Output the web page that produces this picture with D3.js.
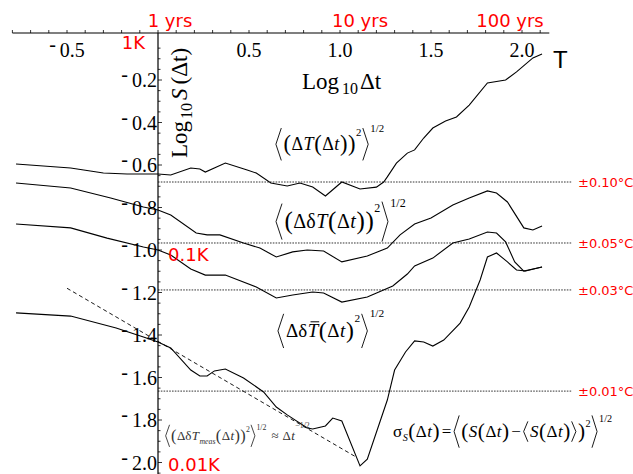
<!DOCTYPE html>
<html>
<head>
<meta charset="utf-8">
<script src="https://cdn.jsdelivr.net/npm/d3@7"></script>
<style>
  body { margin: 0; background: #fff; }
</style>
</head>
<body>
<main></main>
<script>
// values (log10 units)

const w = 633;
const h = 474;

// <(dT(dt))^2>^1/2
const tX = [-0.78, -0.48, -0.30, -0.17, 0.0, 0.07, 0.18, 0.23, 0.26, 0.37, 0.49, 0.54, 0.62, 0.71, 0.78, 0.85, 0.92, 1.01, 1.11, 1.20, 1.24, 1.26, 1.31, 1.37, 1.41, 1.46, 1.51, 1.58, 1.64, 1.71, 1.81, 1.91, 1.97, 2.06, 2.11];
const tY = [-0.595, -0.614, -0.638, -0.642, -0.642, -0.647, -0.614, -0.619, -0.633, -0.591, -0.624, -0.638, -0.685, -0.699, -0.685, -0.704, -0.746, -0.680, -0.713, -0.704, -0.680, -0.656, -0.591, -0.544, -0.529, -0.473, -0.426, -0.393, -0.374, -0.318, -0.214, -0.200, -0.162, -0.096, -0.078];

// <(d dT(dt))^2>^1/2
const dX = [-0.78, -0.48, -0.26, -0.08, 0.0, 0.07, 0.21, 0.27, 0.34, 0.47, 0.56, 0.65, 0.74, 0.82, 0.91, 1.01, 1.15, 1.26, 1.33, 1.41, 1.50, 1.62, 1.71, 1.81, 1.86, 1.92, 2.01, 2.06, 2.11];
const dY = [-0.685, -0.708, -0.755, -0.798, -0.812, -0.835, -0.920, -0.929, -0.929, -0.967, -0.991, -1.033, -1.009, -1.000, -1.005, -1.056, -1.028, -0.991, -0.929, -0.878, -0.849, -0.788, -0.755, -0.722, -0.732, -0.774, -0.896, -0.906, -0.887];

// <d dTbar(dt)^2>^1/2
const bX = [-0.78, -0.48, -0.28, -0.08, 0.0, 0.07, 0.18, 0.26, 0.37, 0.54, 0.65, 0.74, 0.85, 0.91, 1.01, 1.15, 1.29, 1.37, 1.41, 1.51, 1.62, 1.71, 1.81, 1.86, 1.91, 1.96, 2.01, 2.06, 2.11];
const bY = [-0.878, -0.896, -0.944, -0.986, -1.000, -1.024, -1.089, -1.118, -1.118, -1.174, -1.226, -1.212, -1.198, -1.202, -1.245, -1.221, -1.169, -1.113, -1.075, -1.038, -0.967, -0.948, -0.915, -0.920, -0.962, -1.056, -1.099, -1.089, -1.080];

// sigma_S(dt)
const sX = [-0.78, -0.48, -0.23, -0.08, 0.0, 0.07, 0.18, 0.23, 0.27, 0.31, 0.37, 0.47, 0.58, 0.65, 0.71, 0.82, 0.85, 0.92, 0.96, 1.01, 1.11, 1.15, 1.26, 1.30, 1.36, 1.41, 1.46, 1.51, 1.57, 1.66, 1.71, 1.77, 1.81, 1.86, 1.92, 1.97, 2.02, 2.11];
const sY = [-1.296, -1.311, -1.367, -1.409, -1.433, -1.461, -1.565, -1.593, -1.593, -1.569, -1.560, -1.602, -1.668, -1.739, -1.776, -1.838, -1.842, -1.828, -1.791, -1.805, -2.016, -1.984, -1.706, -1.565, -1.480, -1.428, -1.433, -1.452, -1.424, -1.344, -1.268, -1.141, -1.033, -1.014, -1.056, -1.094, -1.099, -1.080];

// dt^-1/2 reference
const slopeX = [-0.5, 1.08];
const slopeY = [-1.18, -1.97];

// dotted levels
const refLevels = [-0.68, -0.967, -1.188, -1.664];
const refLabels = ['±0.10°C', '±0.05°C', '±0.03°C', '±0.01°C'];

const xTickLabels = [-0.5, 0.5, 1.0, 1.5, 2.0];
const yTickLabels = [-0.2, -0.4, -0.6, -0.8, -1.0, -1.2, -1.4, -1.6, -1.8, -2.0];

const yearVals = [0, 1, 2];
const yearLabels = ['1 yrs', '10 yrs', '100 yrs'];
const kVals = [0, -1, -2];
const kLabels = ['1K', '0.1K', '0.01K'];

const serif = '"Liberation Serif", "Times New Roman", serif';
const sans = '"DejaVu Sans", sans-serif';
const red = '#f00';

const svg = d3.select('main').append('svg').attr('width', w).attr('height', h);
svg.append('rect').attr('width', w).attr('height', h).attr('fill', '#fff');

const x = d3.scaleLinear().domain([0, 2]).range([158, 522]);
const y = d3.scaleLinear().domain([0, -2]).range([37.5, 462.5]);
const axisY = 33;

// top axis
svg.append('line')
  .attr('x1', x(-0.8)).attr('x2', x(2.15))
  .attr('y1', axisY).attr('y2', axisY)
  .attr('stroke', '#000').attr('stroke-width', 1.2);

svg.selectAll('.xt')
  .data(d3.range(-8, 22).map((i) => i / 10))
  .enter()
  .append('line')
  .attr('x1', (d) => x(d)).attr('x2', (d) => x(d))
  .attr('y1', axisY).attr('y2', axisY - 3)
  .attr('stroke', '#000').attr('stroke-width', 0.8);

const xl = svg.selectAll('.xl')
  .data(xTickLabels)
  .enter()
  .append('text')
  .attr('x', (d) => x(d))
  .attr('y', 57)
  .attr('text-anchor', 'middle')
  .attr('font-family', serif)
  .attr('font-size', 20);
xl.filter((d) => d < 0).append('tspan').attr('dy', -6).text('-');
xl.append('tspan')
  .attr('dy', (d) => (d < 0 ? 6 : 0))
  .attr('dx', (d) => (d < 0 ? 4 : 0))
  .text((d) => Math.abs(d).toFixed(1));

// left axis
svg.append('line')
  .attr('x1', x(0)).attr('x2', x(0))
  .attr('y1', axisY).attr('y2', h)
  .attr('stroke', '#000').attr('stroke-width', 1.2);

svg.selectAll('.yt')
  .data(d3.range(1, 42).map((i) => -i * 0.05))
  .enter()
  .append('line')
  .attr('x1', x(0)).attr('x2', (d, i) => x(0) + ((i + 1) % 4 === 0 ? 4 : 2.5))
  .attr('y1', (d) => y(d)).attr('y2', (d) => y(d))
  .attr('stroke', '#000').attr('stroke-width', 0.8);

const yl = svg.selectAll('.yl')
  .data(yTickLabels)
  .enter()
  .append('text')
  .attr('x', 157)
  .attr('y', (d) => y(d) + 7)
  .attr('text-anchor', 'end')
  .attr('font-family', serif)
  .attr('font-size', 20);
yl.append('tspan').attr('dy', -6).text('-');
yl.append('tspan').attr('dy', 6).attr('dx', 4).text((d) => Math.abs(d).toFixed(1));

// dotted levels
svg.selectAll('.ref')
  .data(refLevels)
  .enter()
  .append('line')
  .attr('x1', x(0)).attr('x2', 572)
  .attr('y1', (d) => y(d)).attr('y2', (d) => y(d))
  .attr('stroke', '#000').attr('stroke-width', 0.8)
  .attr('stroke-dasharray', '1.6,1.2');

svg.selectAll('.refl')
  .data(refLevels)
  .enter()
  .append('text')
  .attr('x', 578)
  .attr('y', (d) => y(d) + 5)
  .attr('font-family', sans)
  .attr('font-size', 13)
  .attr('fill', red)
  .text((d, i) => refLabels[i]);

// curves
const line = d3.line().x((d) => x(d[0])).y((d) => y(d[1]));
[[tX, tY], [dX, dY], [bX, bY], [sX, sY]].forEach(([xs, ys]) => {
  svg.append('path')
    .datum(xs.map((v, i) => [v, ys[i]]))
    .attr('d', line)
    .attr('fill', 'none')
    .attr('stroke', '#000')
    .attr('stroke-width', 1.1);
});

svg.append('path')
  .datum(slopeX.map((v, i) => [v, slopeY[i]]))
  .attr('d', line)
  .attr('fill', 'none')
  .attr('stroke', '#000')
  .attr('stroke-width', 0.9)
  .attr('stroke-dasharray', '4,3');

// red labels
const yearDx = [12, 20, -12];
svg.selectAll('.yr')
  .data(yearVals)
  .enter()
  .append('text')
  .attr('x', (d, i) => x(d) + yearDx[i])
  .attr('y', 27)
  .attr('text-anchor', 'middle')
  .attr('font-family', sans)
  .attr('font-size', 18)
  .attr('fill', red)
  .text((d, i) => yearLabels[i]);

svg.selectAll('.kl')
  .data(kVals)
  .enter()
  .append('text')
  .attr('x', (d) => (d === 0 ? 145 : 168))
  .attr('y', (d) => y(d) + (d === -2 ? 8 : 11))
  .attr('text-anchor', (d) => (d === 0 ? 'end' : 'start'))
  .attr('font-family', sans)
  .attr('font-size', 18)
  .attr('fill', red)
  .text((d, i) => kLabels[i]);

svg.append('text')
  .attr('x', 553).attr('y', 68)
  .attr('font-family', '"Liberation Sans", Arial, sans-serif')
  .attr('font-size', 24)
  .text('T');

// axis titles
const xt = svg.append('text')
  .attr('x', 302).attr('y', 89)
  .attr('font-family', serif)
  .attr('font-size', 23);
xt.append('tspan').text('Log');
xt.append('tspan').attr('dx', 3).attr('dy', 5).attr('font-size', 16).text('10');
xt.append('tspan').attr('dx', 2).attr('dy', -5).text('Δt');

const yt = svg.append('text')
  .attr('transform', 'translate(187,158) rotate(-90)')
  .attr('font-family', serif)
  .attr('font-size', 23);
yt.append('tspan').text('Log');
yt.append('tspan').attr('dx', 2).attr('dy', 5).attr('font-size', 16).text('10');
yt.append('tspan').attr('dx', 3).attr('dy', -5).attr('font-style', 'italic').text('S');
yt.append('tspan').attr('dx', 4).text('(Δt)');

// formulas
function formula(x0, y0, fs, parts, color) {
  const g = svg.append('g').attr('fill', color).attr('font-family', serif);
  let cx = x0;
  parts.forEach((p) => {
    if (p.b) {
      const bh = (p.h || 1.8) * fs;
      const bw = (p.w || 0.3) * fs;
      const cy = y0 - 0.32 * fs;
      cx += 0.05 * fs;
      const pts = p.b === '<'
        ? [[cx + bw, cy - bh / 2], [cx, cy], [cx + bw, cy + bh / 2]]
        : [[cx, cy - bh / 2], [cx + bw, cy], [cx, cy + bh / 2]];
      g.append('path')
        .attr('d', d3.line()(pts))
        .attr('fill', 'none')
        .attr('stroke', color)
        .attr('stroke-width', 0.9);
      cx += bw + 0.12 * fs;
      return;
    }
    let size = fs * (p.s || 1);
    let dy = p.s ? 0.25 * fs * (p.s - 1) : 0;
    if (p.sub) { size = fs * 0.6; dy = fs * p.sub; }
    if (p.sup) { size = fs * 0.6; dy = -fs * p.sup; }
    const t = g.append('text')
      .attr('x', cx)
      .attr('y', y0 + dy)
      .attr('font-size', size)
      .attr('font-style', p.i ? 'italic' : 'normal')
      .text(p.t);
    const tw = t.node().getComputedTextLength();
    if (p.ol) {
      g.append('line')
        .attr('x1', cx + 0.15 * fs).attr('x2', cx + tw + 0.05 * fs)
        .attr('y1', y0 - 0.8 * fs).attr('y2', y0 - 0.8 * fs)
        .attr('stroke', color).attr('stroke-width', 1);
    }
    cx += tw + (p.g || 0.03 * fs);
  });
}

formula(275, 150, 18, [
  { b: '<' }, { t: '(', s: 1.25 }, { t: 'Δ' }, { t: 'T', i: 1 }, { t: '(', s: 1.25 }, { t: 'Δ' }, { t: 't', i: 1 },
  { t: ')', s: 1.25 }, { t: ')', s: 1.25 }, { t: '2', sup: 0.8 }, { b: '>' }, { t: '1/2', sup: 1.0 },
], '#000');

formula(275, 228, 20, [
  { b: '<' }, { t: '(', s: 1.25 }, { t: 'Δδ' }, { t: 'T', i: 1 }, { t: '(', s: 1.25 }, { t: 'Δ' }, { t: 't', i: 1 },
  { t: ')', s: 1.25 }, { t: ')', s: 1.25 }, { t: '2', sup: 0.8 }, { b: '>', h: 2.0 }, { t: '1/2', sup: 1.05 },
], '#000');

formula(277, 337, 19, [
  { b: '<' }, { t: 'Δδ' }, { t: 'T', i: 1, ol: 1 }, { t: '(', s: 1.25 }, { t: 'Δ' }, { t: 't', i: 1 },
  { t: ')', s: 1.25 }, { t: '2', sup: 0.8 }, { b: '>' }, { t: '1/2', sup: 1.05 },
], '#000');

formula(165, 440, 13, [
  { b: '<', h: 1.7 }, { t: '(', s: 1.25 }, { t: 'Δδ' }, { t: 'T', i: 1 }, { t: 'meas', i: 1, sub: 0.3 },
  { t: '(', s: 1.25 }, { t: 'Δ' }, { t: 't', i: 1 }, { t: ')', s: 1.25 }, { t: ')', s: 1.25 },
  { t: '2', sup: 0.6 }, { b: '>', h: 1.7 }, { t: '1/2', sup: 0.75, g: 5 }, { t: '≈', g: 4 },
  { t: 'Δ' }, { t: 't', i: 1 }, { t: '−1/2', sup: 0.9 },
], '#333');

formula(393, 437, 17, [
  { t: 'σ' }, { t: 'S', i: 1, sub: 0.25 }, { t: '(', s: 1.25 }, { t: 'Δ' }, { t: 't', i: 1 }, { t: ')', s: 1.25, g: 2 },
  { t: '=', g: 2 }, { b: '<', h: 1.9 }, { t: '(', s: 1.25 }, { t: 'S', i: 1 }, { t: '(', s: 1.25 }, { t: 'Δ' },
  { t: 't', i: 1 }, { t: ')', s: 1.25, g: 2 }, { t: '−', g: 2 }, { b: '<', h: 1.2, w: 0.25 }, { t: 'S', i: 1 },
  { t: '(', s: 1.25 }, { t: 'Δ' }, { t: 't', i: 1 }, { t: ')', s: 1.25 }, { b: '>', h: 1.2, w: 0.25 },
  { t: ')', s: 1.25 }, { t: '2', sup: 0.6 }, { b: '>', h: 1.9 }, { t: '1/2', sup: 0.9 },
], '#000');
</script>
</body>
</html>
